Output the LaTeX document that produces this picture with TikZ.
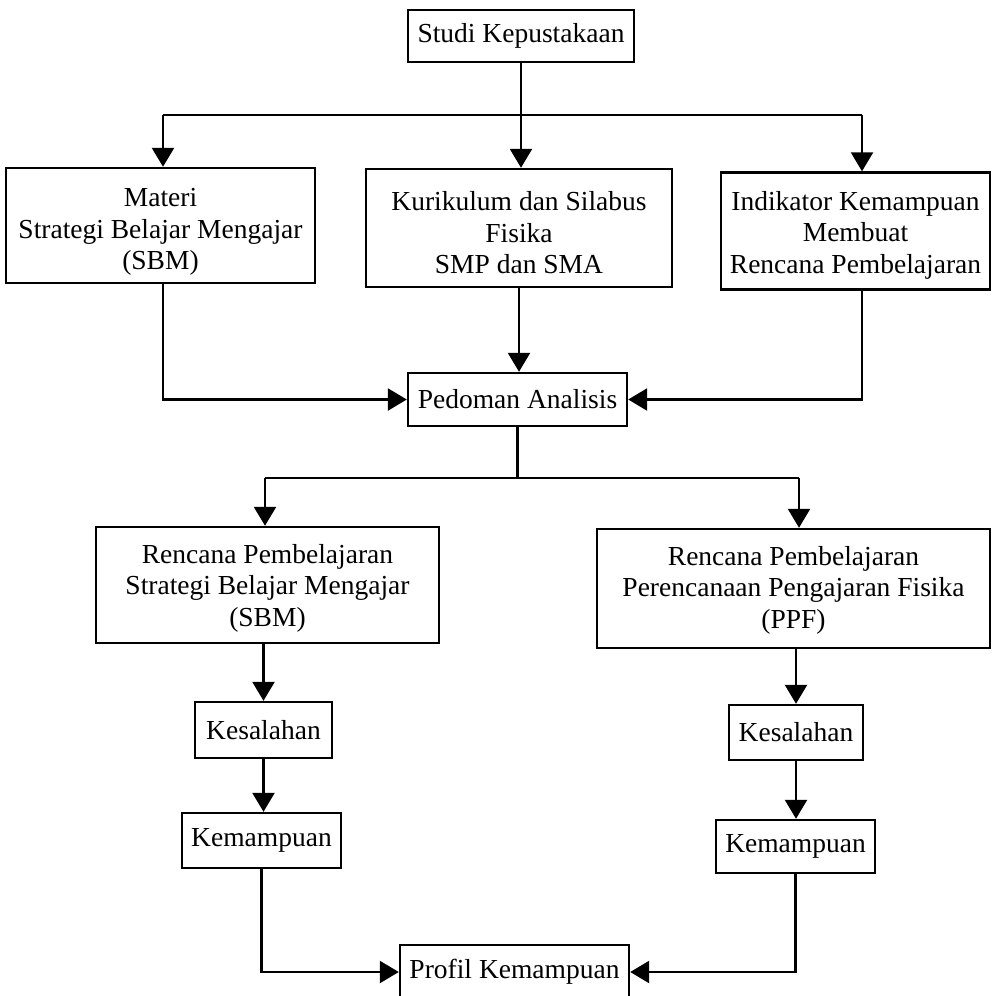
\documentclass[tikz,border=0pt]{standalone}
\usepackage{fontspec}
\setmainfont{Liberation Serif}
\usetikzlibrary{arrows.meta}
\newcommand\myupstrut[1]{\rule{0pt}{#1}}
\begin{document}
\begin{tikzpicture}[x=1pt,y=-1pt,
  box/.style={draw, line width=2.4pt, align=center, inner sep=0pt, font=\fontsize{27.5}{31.5}\selectfont},
  arr/.style={line width=2.4pt, -{Triangle[length=19pt,width=22pt]}},
  ln/.style={line width=2.4pt}]
\useasboundingbox (0,0) rectangle (992,996);
\clip (0,0) rectangle (992,996);
\node[box, minimum width=226, minimum height=52] (studi) at (521,36) {Studi Kepustakaan};
\node[box, minimum width=309, minimum height=115] (materi) at (160.5,225.5) {\myupstrut{31pt}Materi\\Strategi Belajar Mengajar\\(SBM)};
\node[box, minimum width=306, minimum height=118] (kurikulum) at (519,228) {\myupstrut{29pt}Kurikulum dan Silabus\\Fisika\\SMP dan SMA};
\node[box, minimum width=269, minimum height=117] (indikator) at (855.5,231) {\myupstrut{27pt}Indikator Kemampuan\\Membuat\\Rencana Pembelajaran};
\node[box, minimum width=219, minimum height=53] (pedoman) at (517.5,399.5) {Pedoman Analisis};
\node[box, minimum width=343, minimum height=116] (rsbm) at (267.5,585) {\myupstrut{25pt}Rencana Pembelajaran\\Strategi Belajar Mengajar\\(SBM)};
\node[box, minimum width=393, minimum height=119] (rppf) at (793.5,588.5) {\myupstrut{22pt}Rencana Pembelajaran\\Perencanaan Pengajaran Fisika\\(PPF)};
\node[box, minimum width=137, minimum height=56] (kes1) at (263.5,730) {Kesalahan};
\node[box, minimum width=159, minimum height=55] (kem1) at (261.5,840.5) {Kemampuan};
\node[box, minimum width=134, minimum height=55] (kes2) at (796,732.5) {Kesalahan};
\node[box, minimum width=159, minimum height=53] (kem2) at (795.5,846.5) {Kemampuan};
\node[box, minimum width=229, minimum height=54] (profil) at (514.5,972) {Profil Kemampuan};

\coordinate (j1) at (521,115);
\coordinate (j1l) at (163,115);
\coordinate (j1r) at (862,115);
\draw[ln] (studi.south) -- (studi.south |- j1);
\draw[ln] (j1l) -- (j1r);
\draw[arr] (j1l) -- (j1l |- materi.north);
\draw[arr] (j1) -- (j1 |- kurikulum.north);
\draw[arr] (j1r) -- (j1r |- indikator.north);
\draw[arr] (j1l |- materi.south) |- (pedoman.west);
\draw[arr] (kurikulum.south) -- (kurikulum.south |- pedoman.north);
\draw[arr] (j1r |- indikator.south) |- (pedoman.east);

\coordinate (j2) at (518,478);
\coordinate (j2l) at (265,478);
\coordinate (j2r) at (799,478);
\draw[ln] (pedoman.south) -- (pedoman.south |- j2);
\draw[ln] (j2l) -- (j2r);
\draw[arr] (j2l) -- (j2l |- rsbm.north);
\draw[arr] (j2r) -- (j2r |- rppf.north);

\draw[arr] (rsbm.south -| kes1.north) -- (kes1.north);
\draw[arr] (kes1.south) -- (kes1.south |- kem1.north);
\draw[arr] (kem1.south) |- (profil.west);
\draw[arr] (rppf.south -| kes2.north) -- (kes2.north);
\draw[arr] (kes2.south) -- (kes2.south |- kem2.north);
\draw[arr] (kem2.south) |- (profil.east);
\end{tikzpicture}
\end{document}
